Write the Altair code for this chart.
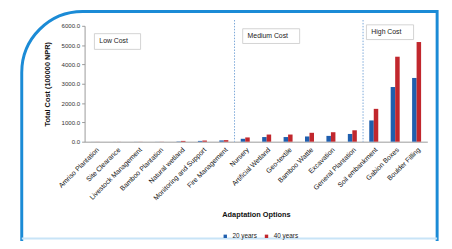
import altair as alt
import pandas as pd

categories = ["Amriso Plantation", "Site Clearance", "Livestock Management",
              "Bamboo Plantation", "Natural wetland", "Monitoring and Support",
              "Fire Management", "Nursery", "Artificial Wetland", "Geo-textile",
              "Bamboo Wattle", "Excavation", "General Plantation",
              "Soil embankment", "Gabion Boxes", "Boulder Filling"]
series = ["20 years", "40 years"]
values_20 = [2, 2, 3, 3, 15, 40, 65, 150, 240, 240, 270, 300, 400, 1100, 2830, 3300]
values_40 = [3, 3, 4, 5, 40, 60, 80, 220, 370, 370, 460, 490, 590, 1700, 4400, 5160]
y_ticks = [0, 1000, 2000, 3000, 4000, 5000, 6000]
divider_after = ["Fire Management", "General Plantation"]
group_labels = ["Low Cost", "Medium Cost", "High Cost"]

rows = []
for c, a, b in zip(categories, values_20, values_40):
    rows.append({"cat": c, "series": series[0], "value": a})
    rows.append({"cat": c, "series": series[1], "value": b})
df = pd.DataFrame(rows)

FONT = "Liberation Sans"
W, H = 349, 118

xscale = alt.Scale(paddingInner=0.58, paddingOuter=0.29)
yscale = alt.Scale(domain=[0, 6000])

bars = alt.Chart(df).mark_bar().encode(
    x=alt.X("cat:N", sort=categories, scale=xscale,
            axis=alt.Axis(title="Adaptation Options", labelAngle=315, labelFontSize=7,
                          labelFont=FONT, labelColor="#111", ticks=False,
                          domainColor="#9a9a9a", labelPadding=4,
                          titleFont=FONT, titleFontSize=7.5, titleFontWeight="bold",
                          titleColor="#111", titleY=76, titleBaseline="alphabetic")),
    xOffset=alt.XOffset("series:N", sort=series),
    y=alt.Y("value:Q", scale=yscale,
            axis=alt.Axis(title="Total Cost (100000 NPR)", values=y_ticks, format=".1f",
                          grid=False, labelFontSize=6.2, labelFont=FONT, labelColor="#333",
                          tickSize=3, tickColor="#9a9a9a", domainColor="#9a9a9a",
                          labelPadding=2, labelOverlap=False, titleFont=FONT,
                          titleFontSize=7.5, titleFontWeight="bold", titleColor="#111",
                          titleX=-38, titleBaseline="middle")),
    color=alt.Color("series:N", sort=series,
                    scale=alt.Scale(domain=series, range=["#1f5fae", "#c1272d"]),
                    legend=alt.Legend(title=None, orient="none", direction="horizontal",
                                      legendX=140, legendY=211, symbolType="square",
                                      symbolSize=12, labelFontSize=6.5, labelFont=FONT,
                                      labelColor="#222", padding=0, columnPadding=6,
                                      symbolStrokeWidth=0)),
)

div_df = pd.DataFrame({"cat": divider_after, "top": [6300] * 2, "bottom": [0] * 2})
dividers = alt.Chart(div_df).mark_rule(color="#7aa7d8", strokeWidth=1,
                                       strokeDash=[1.5, 1.5]).encode(
    x=alt.X("cat:N", sort=categories, bandPosition=1,
            scale=alt.Scale(domain=categories, paddingInner=0, paddingOuter=0),
            axis=None),
    y=alt.Y("top:Q", scale=yscale, axis=None), y2="bottom:Q")

frame = alt.Chart(pd.DataFrame({"a": [0]})).mark_rect(
    fillOpacity=0, stroke="#1b8bd6", strokeWidth=3, cornerRadiusTopLeft=62).encode(
    x=alt.value(-64), x2=alt.value(359), y=alt.value(-14.5), y2=alt.value(300))

bottom_line = alt.Chart(pd.DataFrame({"a": [0]})).mark_rule(
    color="#c8e4f7", strokeWidth=2).encode(
    x=alt.value(-64), x2=alt.value(359), y=alt.value(216.5))

boxes = [(10, 57, 8, 24), (161, 219, 3, 18), (287, 335, -1, 14)]
ann_layers = []
for label, (x0, x1, y0, y1) in zip(group_labels, boxes):
    d = pd.DataFrame({"t": [label]})
    ann_layers.append(alt.Chart(d).mark_rect(fill="white", stroke="#c8c8c8",
                                             strokeWidth=0.8).encode(
        x=alt.value(x0), x2=alt.value(x1), y=alt.value(y0), y2=alt.value(y1)))
    ann_layers.append(alt.Chart(d).mark_text(align="left", baseline="middle", font=FONT,
                                             fontSize=7, color="#222").encode(
        x=alt.value(x0 + 5), y=alt.value((y0 + y1) / 2), text="t:N"))

chart = alt.layer(frame, bottom_line, bars, dividers, *ann_layers).resolve_scale(
    x="independent"
).resolve_axis(
    y="independent"
).properties(
    width=W, height=H,
    autosize=alt.AutoSizeParams(type="none"),
    padding={"left": 78, "top": 16, "right": 17, "bottom": 99},
).configure_view(stroke=None)

chart.save("out.html", embed_options={"renderer": "svg", "actions": False})
